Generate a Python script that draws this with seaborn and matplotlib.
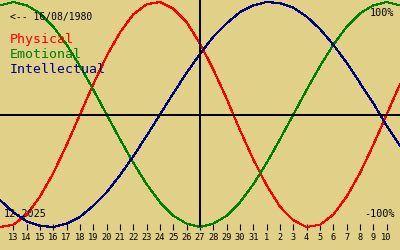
import matplotlib
matplotlib.use("Agg")
import matplotlib.pyplot as plt
import seaborn as sns
import pandas as pd

# Day labels (Dec 12 2025 .. Jan 11 2026); ticks are shown for 13..10
day_labels = ["12", "13", "14", "15", "16", "17", "18", "19", "20", "21", "22", "23", "24",
              "25", "26", "27", "28", "29", "30", "31", "1", "2", "3", "4", "5", "6",
              "7", "8", "9", "10", "11"]
tick_labels_shown = day_labels[1:30]

physical = [-1.00, -0.98, -0.89, -0.73, -0.52, -0.27, 0.00, 0.27, 0.52, 0.73, 0.89,
            0.98, 1.00, 0.94, 0.82, 0.63, 0.40, 0.14, -0.14, -0.40, -0.63, -0.82,
            -0.94, -1.00, -0.98, -0.89, -0.73, -0.52, -0.27, 0.00, 0.27]
emotional = [0.97, 1.00, 0.97, 0.90, 0.78, 0.62, 0.43, 0.22, 0.00, -0.22, -0.43,
             -0.62, -0.78, -0.90, -0.97, -1.00, -0.97, -0.90, -0.78, -0.62, -0.43,
             -0.22, 0.00, 0.22, 0.43, 0.62, 0.78, 0.90, 0.97, 1.00, 0.97]
intellectual = [-0.76, -0.87, -0.95, -0.99, -1.00, -0.97, -0.91, -0.81, -0.69, -0.54,
                -0.37, -0.19, 0.00, 0.19, 0.37, 0.54, 0.69, 0.81, 0.91, 0.97, 1.00,
                0.99, 0.95, 0.87, 0.76, 0.62, 0.46, 0.28, 0.10, -0.10, -0.28]
today_index = 15  # Dec 27

series_names = ["Physical", "Emotional", "Intellectual"]
series_colors = ["#ff0000", "#008000", "#000080"]
birth_label = "<-- 16/08/1980"
month_label = "12-2025"

BG = "#e0d088"

sns.set_theme(style="white")
plt.rcParams["font.family"] = ["DejaVu Sans Mono", "DejaVu Sans"]

rows = []
for name, vals in zip(series_names, [physical, emotional, intellectual]):
    for i, v in enumerate(vals):
        rows.append({"day": i, "value": v, "series": name})
df = pd.DataFrame(rows)

W, H = 400, 250
fig = plt.figure(figsize=(W / 100, H / 100), dpi=100, facecolor=BG)
ax = fig.add_axes([0, 0, 1, 1])
ax.set_facecolor(BG)

sns.lineplot(data=df, x="day", y="value", hue="series", palette=series_colors,
             hue_order=series_names, legend=False, ax=ax, linewidth=0.8,
             antialiased=False)

ax.set_xlim(0, len(day_labels) - 1)
ax.set_ylim(-1.2044, 1.0178)

# axes cross
ax.axhline(0, color="black", linewidth=1.1, antialiased=False)
ax.vlines(today_index, -1.0, 1.1, color="black", linewidth=1.1, antialiased=False)

for s in ["top", "left", "right"]:
    ax.spines[s].set_visible(False)
ax.spines["bottom"].set_position(("data", -1.0))
ax.spines["bottom"].set_visible(False)
ax.set_xticks(range(1, 30))
ax.set_xticklabels(tick_labels_shown, fontsize=6.2)
ax.tick_params(axis="x", direction="inout", length=4.3, width=0.8, color="black",
               pad=2.5, labelcolor="black", bottom=True)
ax.minorticks_off()
ax.set_yticks([])
ax.set_xlabel("")
ax.set_ylabel("")


def px(x, y):
    return x / W, 1 - y / H


fig.text(*px(10, 20), birth_label, fontsize=7, color="black", va="baseline", ha="left")
for i, (name, c) in enumerate(zip(series_names, series_colors)):
    fig.text(*px(10, 43 + 15 * i), name, fontsize=9.5, color=c, va="baseline", ha="left")
fig.text(*px(394, 16), "100%", fontsize=7.3, color="black", va="baseline", ha="right")
fig.text(*px(395, 217), "-100%", fontsize=7.3, color="black", va="baseline", ha="right")
fig.text(*px(4, 217), month_label, fontsize=7.3, color="black", va="baseline", ha="left")

fig.savefig("out.png", dpi=100, facecolor=BG)
